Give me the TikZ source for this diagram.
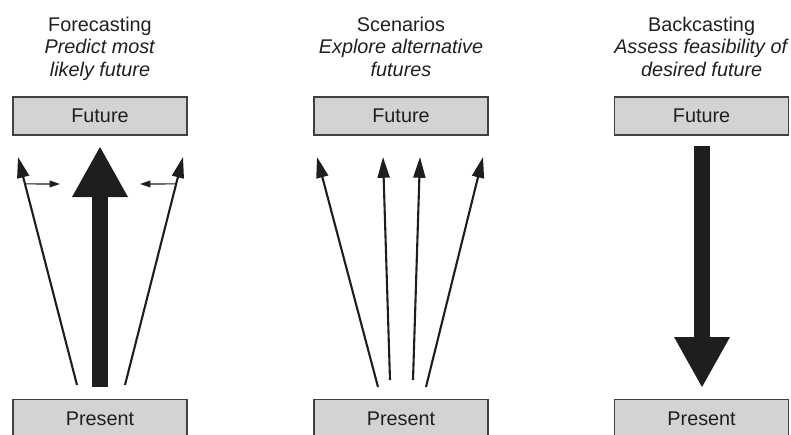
\documentclass[tikz,border=0pt]{standalone}
\usepackage{fontspec}
\setmainfont{Liberation Sans}
\usepackage[usenames,dvipsnames]{xcolor}
\usetikzlibrary{positioning,calc,arrows.meta}

\definecolor{boxgray}{HTML}{D3D3D3}
\definecolor{inkgray}{HTML}{1E1E1E}

\begin{document}
\begin{tikzpicture}[
    timebox/.style={draw=black!75, line width=1pt, fill=boxgray, minimum width=4.35cm, minimum height=0.95cm, inner sep=0pt, font=\fontsize{14.1}{16}\selectfont, text=black!88},
    heading/.style={align=center, inner sep=0pt, font=\fontsize{14.1}{16}\selectfont, text=black!88},
    thinarrow/.style={draw=inkgray, line width=1.5pt, -{Triangle[width=0.3cm,length=0.52cm]}},
    nudge/.style={draw=inkgray, line width=0.8pt, -{Triangle[width=0.17cm,length=0.26cm]}},
    fatarrow/.style={draw=inkgray, line width=0.4cm, -{Triangle[width=1.4cm,length=1.25cm,line width=0pt]}}
  ]
  \useasboundingbox (0,0) rectangle (19.775,-10.85);

  % forecasting
  \node [timebox] (fut1) at (2.5,-2.9) {Future};
  \node [timebox] (pre1) at (2.5,-10.46) {Present};
  \node [heading, above=0.33cm of fut1] (head1) {Forecasting\\\textit{Predict most}\\\textit{likely future}\strut};
  \coordinate (s1a) at (1.925,-9.625);  \coordinate (t1a) at (0.45,-3.925);
  \coordinate (s1b) at (3.125,-9.625);  \coordinate (t1b) at (4.575,-3.925);
  \coordinate (s1c) at (2.5,-9.675);    \coordinate (t1c) at (2.5,-3.675);
  \draw [thinarrow] (s1a) -- (t1a);
  \draw [thinarrow] (s1b) -- (t1b);
  \draw [fatarrow] (s1c) -- (t1c);
  \coordinate (n1a) at (1.5,-4.6);
  \coordinate (n1b) at (3.5,-4.6);
  \draw [nudge] ($(t1a)!0.118!(s1a)$) -- (n1a);
  \draw [nudge] ($(t1b)!0.118!(s1b)$) -- (n1b);

  % scenarios
  \node [timebox] (fut2) at (10.025,-2.9) {Future};
  \node [timebox] (pre2) at (10.025,-10.46) {Present};
  \node [heading, above=0.33cm of fut2] (head2) {Scenarios\\\textit{Explore alternative}\\\textit{futures}\strut};
  \coordinate (s2a) at (9.45,-9.675);   \coordinate (t2a) at (7.925,-3.925);
  \coordinate (s2b) at (9.75,-9.5);     \coordinate (t2b) at (9.575,-3.925);
  \coordinate (s2c) at (10.325,-9.5);   \coordinate (t2c) at (10.5,-3.925);
  \coordinate (s2d) at (10.65,-9.675);  \coordinate (t2d) at (12.075,-3.925);
  \draw [thinarrow] (s2a) -- (t2a);
  \draw [thinarrow] (s2b) -- (t2b);
  \draw [thinarrow] (s2c) -- (t2c);
  \draw [thinarrow] (s2d) -- (t2d);

  % backcasting
  \node [timebox] (fut3) at (17.54,-2.9) {Future};
  \node [timebox] (pre3) at (17.54,-10.46) {Present};
  \node [heading, above=0.33cm of fut3] (head3) {Backcasting\\\textit{Assess feasibility of}\\\textit{desired future}\strut};
  \coordinate (s3) at (17.55,-3.65);
  \coordinate (t3) at (17.55,-9.675);
  \draw [fatarrow] (s3) -- (t3);
\end{tikzpicture}
\end{document}
